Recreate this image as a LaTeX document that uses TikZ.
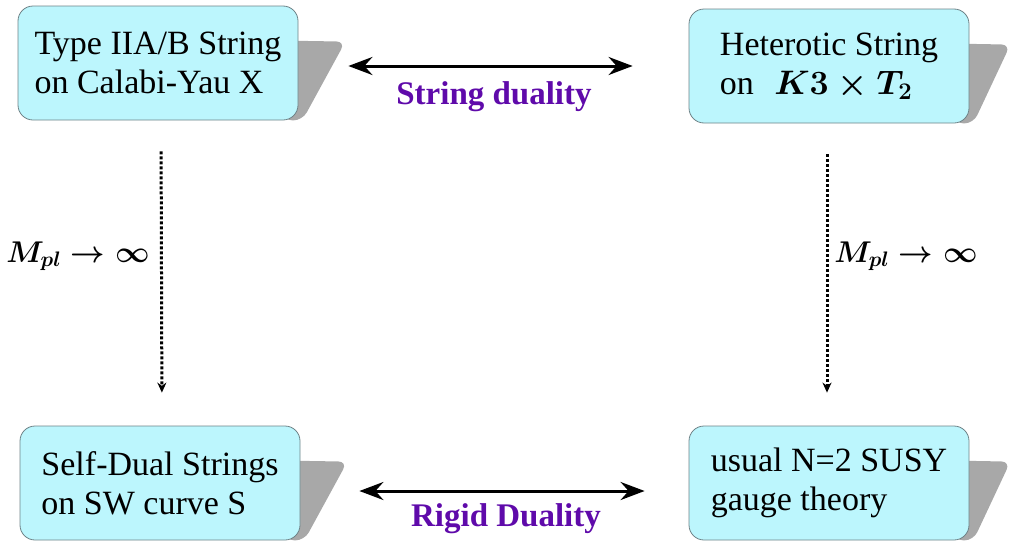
\RequirePackage{fix-cm}
\documentclass[tikz,border=0pt]{standalone}
\usepackage{fontspec}
\setmainfont{Liberation Serif}
\usepackage{amsmath}
\usetikzlibrary{arrows.meta,calc,backgrounds}

\definecolor{boxfill}{RGB}{188,246,253}
\definecolor{boxline}{RGB}{110,130,135}
\definecolor{shadowgray}{RGB}{168,168,168}
\definecolor{dualpurple}{RGB}{95,10,170}

\tikzset{
  theory/.style={draw=boxline, fill=boxfill, line width=0.8pt, rounded corners=15pt,
    minimum width=280pt, minimum height=114pt, align=left, inner sep=0pt,
    font=\rmfamily\fontsize{34}{39}\selectfont},
  duality/.style={{Stealth[length=24pt,width=18pt,inset=8pt]}-{Stealth[length=24pt,width=18pt,inset=8pt]},
    line width=3pt},
  limitline/.style={-{Stealth[length=10pt,width=9pt]}, line width=3pt, dash pattern=on 3pt off 2pt},
  dlabel/.style={text=dualpurple, font=\rmfamily\fontsize{33}{36}\selectfont\bfseries},
  mlabel/.style={font=\fontsize{30}{34}\selectfont},
}

% slanted drop shadow to the right of a theory box
\newcommand{\theoryshadow}[2]{%
  \fill[shadowgray, rounded corners=9pt]
    ($(#1.north east)+(-15,35)$) -- ($(#1.north east)+(#2,36)$) --
    ($(#1.south east)+(4,0)$) -- ($(#1.south east)+(-15,0)$) -- cycle;}

\begin{document}
\begin{tikzpicture}[x=1pt,y=-1pt]
\useasboundingbox (0,0) rectangle (1011,541);

% the four theories
\node[theory] (iia) at (158,63) {Type IIA/B String\\on Calabi-Yau X};
\node[theory] (het) at (829,66) {Heterotic String\\on\hspace{0.6em}$\boldsymbol{K3\times T_2}$};
\node[theory] (sds) at (160,483) {Self-Dual Strings\\on SW curve S};
\node[theory] (sym) at (829,483) {usual N=2 SUSY\\gauge theory};

\begin{scope}[on background layer]
  \theoryshadow{iia}{47}
  \theoryshadow{het}{41}
  \theoryshadow{sds}{47}
  \theoryshadow{sym}{41}
\end{scope}

% dualities
\draw[duality, shorten <=50pt, shorten >=56pt] ([yshift=-3pt]iia.east) -- (het.west);
\draw[duality, shorten <=59pt, shorten >=44pt] ([yshift=-8pt]sds.east) -- ([yshift=-8pt]sym.west);
\node[dlabel] (sdual) at (494,97) {String duality};
\node[dlabel] (rdual) at (506,519) {Rigid Duality};

% decoupling limits
\draw[limitline, shorten <=31pt, shorten >=33pt] ([xshift=3pt]iia.south) -- ([xshift=2pt]sds.north);
\draw[limitline, shorten <=31pt, shorten >=33pt] ([xshift=-2pt]het.south) -- ([xshift=-2pt]sym.north);
\node[mlabel] (mpl1) at (78,256) {$\boldsymbol{M_{pl}\to\infty}$};
\node[mlabel] (mpl2) at (906,256) {$\boldsymbol{M_{pl}\to\infty}$};
\end{tikzpicture}
\end{document}
